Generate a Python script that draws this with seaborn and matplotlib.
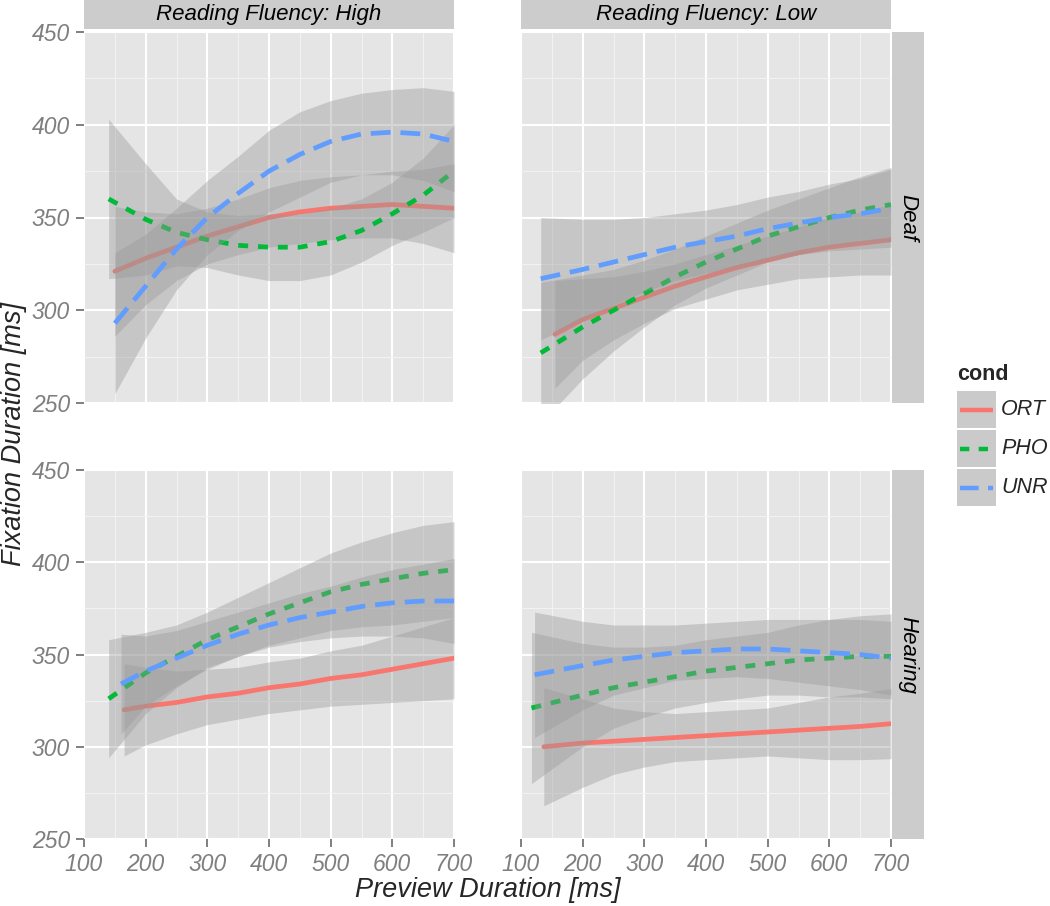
import matplotlib
matplotlib.use("Agg")
import pandas as pd
import matplotlib.pyplot as plt
import seaborn as sns
from matplotlib.patches import Rectangle

# ggplot-like grey theme
sns.set_theme(style="darkgrid")
plt.rcParams["font.family"] = ["Liberation Sans", "DejaVu Sans"]

W, H = 1050, 906

conds = ["ORT", "PHO", "UNR"]
colors = {"ORT": "#F8766D", "PHO": "#00BA38", "UNR": "#619CFF"}
styles = {"ORT": "-", "PHO": (0, (2.1, 2.1)), "UNR": (0, (4.2, 2.1))}

# common x positions after each curve's first point
x_grid = [200, 250, 300, 350, 400, 450, 500, 550, 600, 650, 700]

# Reading Fluency: High / Deaf   (first x per cond: ORT, PHO, UNR)
high_deaf_start = [150, 140, 150]
high_deaf_ort = [321, 328, 334, 340, 345, 350, 353, 355, 356, 357, 356, 355]
high_deaf_pho = [360, 349, 342, 338, 335, 334, 334, 337, 343, 352, 362, 375]
high_deaf_unr = [293, 313, 333, 350, 363, 375, 384, 391, 395, 396, 395, 391]
high_deaf_ort_se = [35, 25, 18, 15, 15, 16, 17, 17, 17, 18, 20, 24]
high_deaf_pho_se = [43, 30, 18, 15, 16, 18, 18, 18, 17, 17, 20, 25]
high_deaf_unr_se = [38, 28, 22, 20, 20, 22, 23, 22, 22, 23, 25, 27]

# Reading Fluency: Low / Deaf
low_deaf_start = [155, 132, 132]
low_deaf_ort = [287, 295, 301, 307, 313, 318, 323, 327, 331, 334, 336, 338]
low_deaf_pho = [277, 291, 300, 309, 318, 326, 333, 340, 345, 350, 354, 357]
low_deaf_unr = [317, 322, 326, 330, 334, 337, 340, 344, 347, 350, 352, 355]
low_deaf_ort_se = [29, 22, 17, 14, 12, 12, 12, 13, 14, 16, 17, 19]
low_deaf_pho_se = [38, 28, 22, 18, 15, 14, 14, 14, 15, 16, 18, 20]
low_deaf_unr_se = [33, 27, 23, 20, 18, 17, 17, 17, 17, 18, 19, 21]

# Reading Fluency: High / Hearing
high_hear_start = [165, 140, 160]
high_hear_ort = [320, 322, 324, 327, 329, 332, 334, 337, 339, 342, 345, 348]
high_hear_pho = [326, 340, 349, 358, 365, 372, 378, 384, 388, 391, 394, 396]
high_hear_unr = [334, 341, 348, 355, 361, 366, 370, 373, 376, 378, 379, 379]
high_hear_ort_se = [25, 21, 17, 15, 14, 14, 14, 15, 16, 18, 20, 22]
high_hear_pho_se = [32, 22, 17, 15, 16, 17, 19, 21, 23, 25, 26, 26]
high_hear_unr_se = [27, 19, 15, 13, 12, 12, 13, 14, 16, 18, 20, 23]

# Reading Fluency: Low / Hearing
low_hear_start = [137, 117, 122]
low_hear_ort = [300, 302, 303, 304, 305, 306, 307, 308, 309, 310, 311, 312.5]
low_hear_pho = [321, 328, 332, 335, 338, 341, 343, 345, 347, 348, 349, 349]
low_hear_unr = [339, 344, 347, 349, 351, 352, 353, 353, 352, 351, 350, 348]
low_hear_ort_se = [32, 24, 18, 15, 13, 13, 13, 13, 15, 17, 18, 19]
low_hear_pho_se = [41, 28, 22, 19, 17, 17, 17, 17, 19, 21, 22, 23]
low_hear_unr_se = [34, 24, 19, 17, 15, 15, 15, 16, 17, 18, 19, 20]

panels = {
    ("High", "Deaf"): (high_deaf_start, [high_deaf_ort, high_deaf_pho, high_deaf_unr],
                       [high_deaf_ort_se, high_deaf_pho_se, high_deaf_unr_se]),
    ("Low", "Deaf"): (low_deaf_start, [low_deaf_ort, low_deaf_pho, low_deaf_unr],
                      [low_deaf_ort_se, low_deaf_pho_se, low_deaf_unr_se]),
    ("High", "Hearing"): (high_hear_start, [high_hear_ort, high_hear_pho, high_hear_unr],
                          [high_hear_ort_se, high_hear_pho_se, high_hear_unr_se]),
    ("Low", "Hearing"): (low_hear_start, [low_hear_ort, low_hear_pho, low_hear_unr],
                         [low_hear_ort_se, low_hear_pho_se, low_hear_unr_se]),
}

frames = []
for (flu, hear), (starts, fits, ses) in panels.items():
    for c, x0, f, s in zip(conds, starts, fits, ses):
        frames.append(pd.DataFrame({"fluency": flu, "group": hear, "cond": c,
                                    "x": [x0] + x_grid, "fit": f, "se": s}))
df = pd.concat(frames, ignore_index=True)
df["lo"] = df["fit"] - df["se"]
df["hi"] = df["fit"] + df["se"]


def px_box(x0, y0, x1, y1):
    return [x0 / W, 1 - y1 / H, (x1 - x0) / W, (y1 - y0) / H]


boxes = {
    ("High", "Deaf"): (84, 32, 454, 403),
    ("Low", "Deaf"): (521, 32, 891, 403),
    ("High", "Hearing"): (84, 470, 454, 839),
    ("Low", "Hearing"): (521, 470, 891, 839),
}

fig = plt.figure(figsize=(W / 100, H / 100), dpi=100)
tick_grey = "#7F7F7F"

for (flu, hear), box in boxes.items():
    ax = fig.add_axes(px_box(*box))
    ax.set_facecolor("#E5E5E5")
    for s in ax.spines.values():
        s.set_visible(False)
    for z, c in enumerate(conds):
        sub = df[(df.fluency == flu) & (df.group == hear) & (df.cond == c)]
        ax.fill_between(sub["x"], sub["lo"], sub["hi"], color="#999999",
                        alpha=0.4, lw=0, zorder=2 + 2 * z)
        sns.lineplot(data=sub, x="x", y="fit", ax=ax, color=colors[c], lw=3.4,
                     linestyle=styles[c], errorbar=None, zorder=3 + 2 * z)
    ax.set(xlabel="", ylabel="")
    ax.set_xlim(100, 700)
    ax.set_ylim(250, 450)
    ax.set_xticks(range(100, 701, 100))
    ax.set_xticks(range(150, 700, 100), minor=True)
    ax.set_yticks(range(250, 451, 50))
    ax.set_yticks(range(275, 450, 50), minor=True)
    ax.grid(which="major", color="white", lw=1.5)
    ax.grid(which="minor", color="#F2F2F2", lw=0.8)
    ax.tick_params(which="minor", length=0)
    ax.tick_params(which="major", length=6, width=1.4, color=tick_grey,
                   labelcolor=tick_grey, labelsize=16.5, pad=4)
    show_x = hear == "Hearing"
    show_y = flu == "High"
    ax.tick_params(axis="x", bottom=show_x, labelbottom=show_x)
    ax.tick_params(axis="y", left=show_y, labelleft=show_y)
    for lab in ax.get_xticklabels() + ax.get_yticklabels():
        lab.set_fontstyle("italic")

    # strips
    if hear == "Deaf":
        sax = fig.add_axes(px_box(box[0], 0, box[2], 29))
        sax.set_facecolor("#CCCCCC")
        sax.set_xticks([])
        sax.set_yticks([])
        sax.grid(False)
        for s in sax.spines.values():
            s.set_visible(False)
        sax.text(0.5, 0.5, "Reading Fluency: " + flu, ha="center", va="center",
                 fontsize=16, fontstyle="italic", color="black",
                 transform=sax.transAxes)
    if flu == "Low":
        rax = fig.add_axes(px_box(892, box[1], 924, box[3]))
        rax.set_facecolor("#CCCCCC")
        rax.set_xticks([])
        rax.set_yticks([])
        rax.grid(False)
        for s in rax.spines.values():
            s.set_visible(False)
        rax.text(0.5, 0.5, hear, ha="center", va="center", rotation=-90,
                 fontsize=16, fontstyle="italic", color="black",
                 transform=rax.transAxes)

fig.text(488 / W, 1 - 890 / H, "Preview Duration [ms]", ha="center", va="center",
         fontsize=19.5, fontstyle="italic")
fig.text(14 / W, 1 - 434 / H, "Fixation Duration [ms]", ha="center", va="center",
         fontsize=19.5, fontstyle="italic", rotation=90)

# legend drawn in pixel space
lax = fig.add_axes([0, 0, 1, 1])
lax.set_xlim(0, W)
lax.set_ylim(H, 0)
lax.axis("off")
lax.patch.set_alpha(0)
lax.text(957, 375, "cond", ha="left", va="center", fontsize=15.5, fontweight="bold")
for i, c in enumerate(conds):
    top = 391 + i * 39
    lax.add_patch(Rectangle((957, top), 39, 37, facecolor="#CACACA", edgecolor="none"))
    yc = top + 18.5
    lax.plot([960, 993], [yc, yc], color=colors[c], lw=3.2, linestyle=styles[c],
             solid_capstyle="butt", dash_capstyle="butt")
    lax.text(1001, yc, c, ha="left", va="center", fontsize=15.5, fontstyle="italic")

fig.savefig("out.png", dpi=100)
